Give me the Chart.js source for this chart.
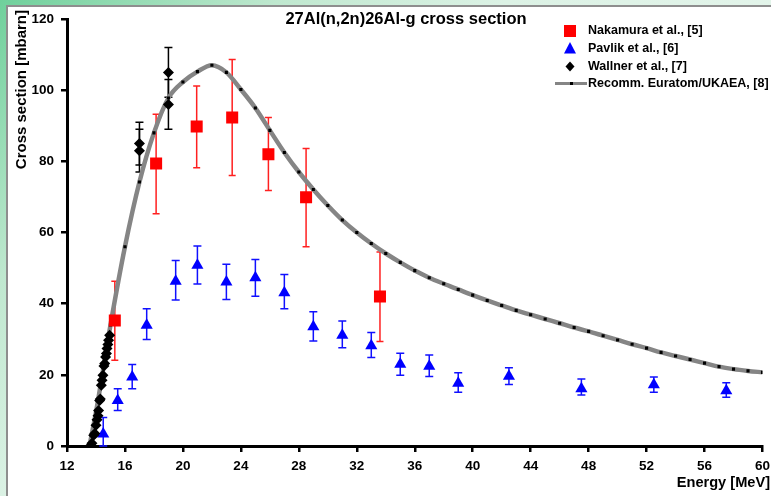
<!DOCTYPE html>
<html>
<head>
<meta charset="utf-8">
<script src="https://cdn.jsdelivr.net/npm/chart.js@4.4.0/dist/chart.umd.min.js"></script>
<style>
  html, body { margin: 0; padding: 0; width: 771px; height: 496px; overflow: hidden; }
  body { position: relative; background: linear-gradient(135deg, #6fd09b 0%, #bfe8cf 22%, #dcf2e5 40%, #eef8f2 100%); }
  #frame { position: absolute; left: 6px; top: 5px; width: 780px; height: 500px; background: #fff;
           border-left: 2px solid #8e8e8e; border-top: 2px solid #8e8e8e; }
  #chart { position: absolute; left: 0; top: 0; }
</style>
</head>
<body>
<div id="frame"></div>
<canvas id="chart" width="771" height="496"></canvas>
<script>
"use strict";

const chartTitle = "27Al(n,2n)26Al-g cross section";
const xTitle = "Energy [MeV]";
const yTitle = "Cross section [mbarn]";

// Nakamura et al., [5]
const nakE  = [15.3, 18.15, 20.95, 23.4, 25.9, 28.5, 33.6];
const nakV  = [35.3, 79.4, 89.8, 92.3, 82.0, 69.9, 42.0];
const nakLo = [24.1, 65.3, 78.2, 76.0, 71.8, 56.0, 29.4];
const nakHi = [46.3, 93.2, 101.2, 108.6, 92.3, 83.6, 54.5];

// Pavlik et al., [6]
const pavE  = [14.5, 15.5, 16.5, 17.5, 19.5, 21.0, 23.0, 25.0, 27.0, 29.0, 31.0, 33.0, 35.0, 37.0, 39.0, 42.5, 47.5, 52.5, 57.5];
const pavV  = [3.4, 12.8, 19.4, 33.9, 46.3, 50.8, 46.1, 47.3, 43.1, 33.5, 31.1, 28.2, 23.0, 22.4, 17.6, 19.6, 16.1, 17.2, 15.5];
const pavLo = [0, 10.0, 16.1, 29.9, 41.0, 45.5, 41.2, 42.1, 38.6, 29.5, 27.6, 24.9, 19.9, 19.5, 15.1, 17.3, 14.3, 15.1, 13.7];
const pavHi = [8.0, 16.1, 22.9, 38.6, 52.1, 56.2, 51.1, 52.4, 48.2, 37.7, 35.1, 31.9, 26.1, 25.6, 20.6, 22.0, 18.8, 19.4, 17.8];

// Wallner et al., [7]
const walE  = [13.65, 13.72, 13.84, 13.92, 14.0, 14.07, 14.14, 14.18, 14.25, 14.3, 14.37, 14.42, 14.48, 14.55, 14.6, 14.66, 14.72, 14.76, 14.82, 14.87, 14.94, 17.0, 17.0, 19.0, 19.0];
const walV  = [0.2, 0.8, 3.0, 3.5, 5.8, 7.4, 8.5, 10.0, 12.8, 13.2, 17.1, 18.5, 19.9, 22.5, 23.2, 25.0, 26.0, 27.4, 28.5, 29.7, 31.1, 85.0, 83.0, 105.0, 96.0];
const walLo = [null, null, null, null, null, null, null, null, null, null, null, null, null, null, null, null, null, null, null, null, null, 79.0, 77.0, 98.0, 89.0];
const walHi = [null, null, null, null, null, null, null, null, null, null, null, null, null, null, null, null, null, null, null, null, null, 91.0, 89.0, 112.0, 103.0];

// Recomm. Euratom/UKAEA, [8]
const recE = [13.55, 14, 15, 16, 17, 18, 19, 20, 21, 22, 23, 24, 25, 26, 27, 28, 29, 30, 31, 32, 33, 34, 35, 36, 37,
              38, 39, 40, 41, 42, 43, 44, 45, 46, 47, 48, 49, 50, 51, 52, 53, 54, 55, 56, 57, 58, 59, 60];
const recV = [0, 9.5, 34, 56, 74.2, 88, 97.8, 102.3, 105.2, 107, 105, 100.2, 95, 88.7, 82.5, 77, 72.1, 67.6, 63.5, 60, 56.9, 54.1, 51.6, 49.3, 47.3,
              45.6, 44, 42.4, 40.9, 39.5, 38.1, 36.9, 35.7, 34.5, 33.3, 32.2, 31, 29.8, 28.6, 27.5, 26.3, 25.3, 24.3, 23.3, 22.3, 21.6, 21.1, 20.7];

const font = "Arial, 'Liberation Sans', sans-serif";

function points(xs, ys) {
  return xs.map((x, i) => ({x: x, y: ys[i]}));
}

const errorSets = [
  {e: pavE, lo: pavLo, hi: pavHi, color: "#1010ff", cap: 4},
  {e: nakE, lo: nakLo, hi: nakHi, color: "#ff2020", cap: 3.5},
  {e: walE, lo: walLo, hi: walHi, color: "#000000", cap: 4}
];

const errorBars = {
  id: "errorBars",
  beforeDatasetsDraw(chart) {
    const ctx = chart.ctx;
    const x = chart.scales.x, y = chart.scales.y;
    ctx.save();
    ctx.lineWidth = 1.5;
    for (const set of errorSets) {
      ctx.strokeStyle = set.color;
      set.e.forEach((e, i) => {
        if (set.lo[i] === null) return;
        const px = x.getPixelForValue(e);
        const top = y.getPixelForValue(set.hi[i]);
        const bot = y.getPixelForValue(set.lo[i]);
        ctx.beginPath();
        ctx.moveTo(px, top); ctx.lineTo(px, bot);
        ctx.moveTo(px - set.cap, top); ctx.lineTo(px + set.cap, top);
        ctx.moveTo(px - set.cap, bot); ctx.lineTo(px + set.cap, bot);
        ctx.stroke();
      });
    }
    ctx.restore();
  }
};

function marker(ctx, style, cx, cy, color) {
  ctx.fillStyle = color;
  ctx.beginPath();
  if (style === "rect") {
    ctx.rect(cx - 6, cy - 6, 12, 12);
  } else if (style === "triangle") {
    ctx.moveTo(cx, cy - 7); ctx.lineTo(cx + 6, cy + 4.5); ctx.lineTo(cx - 6, cy + 4.5);
  } else if (style === "rectRot") {
    ctx.moveTo(cx, cy - 5); ctx.lineTo(cx + 4.5, cy); ctx.lineTo(cx, cy + 5); ctx.lineTo(cx - 4.5, cy);
  }
  ctx.closePath();
  ctx.fill();
}

const decor = {
  id: "decor",
  afterDraw(chart) {
    const ctx = chart.ctx;
    ctx.save();
    ctx.fillStyle = "#000";
    // title
    ctx.font = "bold 16.5px " + font;
    ctx.textAlign = "center";
    ctx.textBaseline = "middle";
    ctx.fillText(chartTitle, 406, 19);
    // axis titles
    ctx.font = "bold 14.6px " + font;
    ctx.textAlign = "right";
    ctx.fillText(xTitle, 770, 483);
    ctx.save();
    ctx.font = "bold 15px " + font;
    ctx.translate(22, 10);
    ctx.rotate(-Math.PI / 2);
    ctx.textAlign = "right";
    ctx.fillText(yTitle, 0, 0);
    ctx.restore();
    // legend
    ctx.font = "bold 12.5px " + font;
    ctx.textAlign = "left";
    const rows = [31, 49, 66.5, 83.5];
    chart.data.datasets.forEach((ds, i) => {
      const ry = rows[i];
      if (ds.showLine) {
        ctx.strokeStyle = ds.borderColor;
        ctx.lineWidth = 3;
        ctx.beginPath(); ctx.moveTo(555, ry); ctx.lineTo(587, ry); ctx.stroke();
        ctx.fillStyle = "#000";
        ctx.fillRect(570, ry - 1.5, 3, 3);
      } else {
        marker(ctx, ds.pointStyle, 570, ry, ds.backgroundColor);
      }
      ctx.fillStyle = "#000";
      ctx.fillText(ds.label, 588, ry);
    });
    ctx.restore();
  }
};

const config = {
  type: "scatter",
  data: {
    datasets: [
      {label: "Nakamura et al., [5]", data: points(nakE, nakV), pointStyle: "rect", pointRadius: 8.5,
       backgroundColor: "#ff0000", borderWidth: 0, order: 2},
      {label: "Pavlik et al., [6]", data: points(pavE, pavV), pointStyle: "triangle", pointRadius: 7,
       backgroundColor: "#0000ff", borderWidth: 0, order: 3},
      {label: "Wallner et al., [7]", data: points(walE, walV), pointStyle: "rectRot", pointRadius: 5.5,
       backgroundColor: "#000000", borderWidth: 0, order: 1},
      {label: "Recomm. Euratom/UKAEA, [8]", data: points(recE, recV), showLine: true,
       borderColor: "#858585", borderWidth: 4.5, cubicInterpolationMode: "monotone",
       pointStyle: "rect", pointRadius: c => Number.isInteger(c.raw && c.raw.x) ? 2.2 : 0,
       pointBackgroundColor: "#000", pointBorderWidth: 0, backgroundColor: "#000", order: 4}
    ]
  },
  options: {
    responsive: false,
    animation: false,
    events: [],
    layout: {padding: {left: 0, top: 19, right: 8, bottom: 0}},
    plugins: {legend: {display: false}, title: {display: false}, tooltip: {enabled: false}},
    scales: {
      x: {
        type: "linear", min: 12, max: 60,
        afterFit: s => { s.height = 50; s.paddingRight = 8; s.paddingLeft = 0; },
        border: {display: true, width: 3, color: "#000"},
        grid: {drawOnChartArea: false, drawTicks: true, tickLength: 6, color: "#000", lineWidth: 2.5},
        ticks: {stepSize: 4, autoSkip: false, maxRotation: 0, padding: 6, color: "#000",
                font: {family: font, size: 13.5, weight: "bold"}}
      },
      y: {
        type: "linear", min: 0, max: 120,
        afterFit: s => { s.width = 67; },
        border: {display: true, width: 3, color: "#000"},
        grid: {drawOnChartArea: false, drawTicks: true, tickLength: 6, color: "#000", lineWidth: 2.5},
        ticks: {stepSize: 20, padding: 7, color: "#000",
                font: {family: font, size: 13.5, weight: "bold"}}
      }
    }
  },
  plugins: [errorBars, decor]
};

new Chart(document.getElementById("chart").getContext("2d"), config);
</script>
</body>
</html>
